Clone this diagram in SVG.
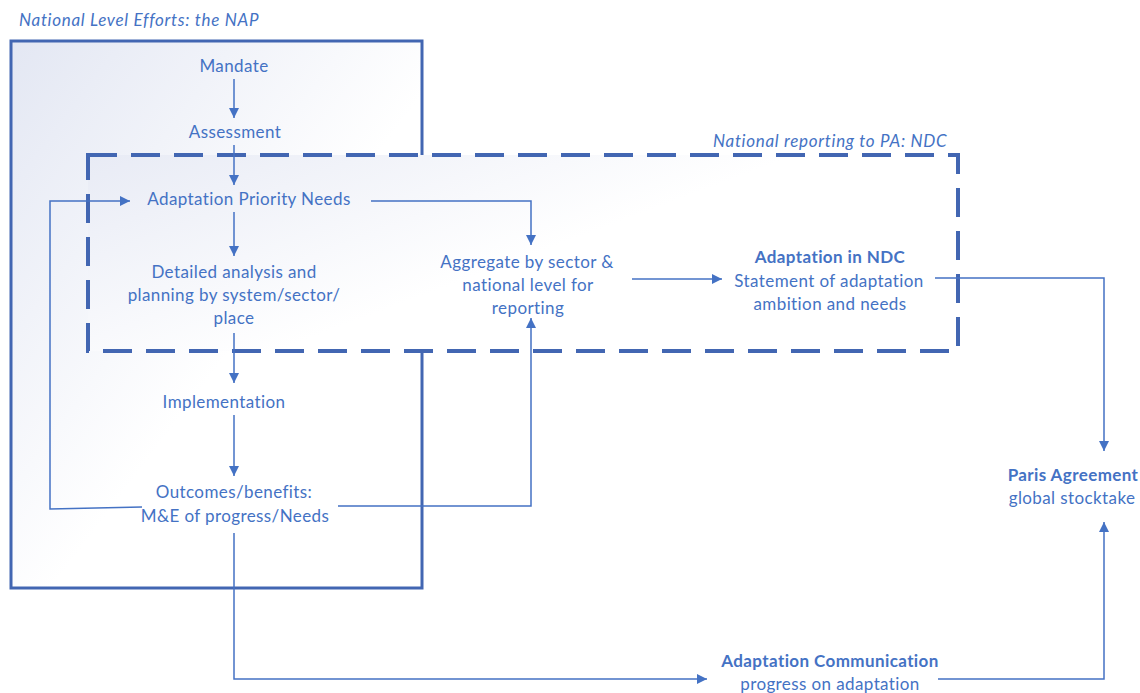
<svg xmlns="http://www.w3.org/2000/svg" width="1140" height="693" viewBox="0 0 1140 693">
<defs>
<linearGradient id="gSolid" x1="0" y1="0" x2="1" y2="1">
<stop offset="0" stop-color="#e3e7f3"/>
<stop offset="0.55" stop-color="#ffffff"/>
</linearGradient>
<linearGradient id="gDash" x1="0" y1="0" x2="1" y2="0.6">
<stop offset="0" stop-color="#e8ebf5"/>
<stop offset="0.6" stop-color="#ffffff"/>
</linearGradient>
<marker id="arr" viewBox="0 0 10 10" refX="10" refY="5" markerWidth="10" markerHeight="10" markerUnits="userSpaceOnUse" orient="auto">
<path d="M0,0 L10,5 L0,10 Z" fill="#4472c4"/>
</marker>
<style>
text{font-family:Lato,"Liberation Sans",sans-serif;font-size:17px;letter-spacing:0.4px;fill:#4472c4;text-anchor:middle}
.b{font-weight:bold}
.it{font-style:italic;text-anchor:start;letter-spacing:0.7px}
.c{fill:none;stroke:#4472c4;stroke-width:1.5}
</style>
</defs>
<g id="nap-box">
<rect x="11" y="41" width="411" height="547" fill="url(#gSolid)" stroke="#4266b2" stroke-width="3"/>
<text class="it" x="19" y="26">National Level Efforts: the NAP</text>
</g>
<g id="ndc-box">
<rect x="88" y="155" width="870" height="196" fill="url(#gDash)" stroke="#4266b2" stroke-width="4" stroke-dasharray="29 14"/>
<text class="it" x="713" y="147">National reporting to PA: NDC</text>
</g>
<g id="connectors">
<path class="c" d="M234,79 V118" marker-end="url(#arr)"/>
<path class="c" d="M234,145 V185" marker-end="url(#arr)"/>
<path class="c" d="M234,212 V256" marker-end="url(#arr)"/>
<path class="c" d="M234,333 V383" marker-end="url(#arr)"/>
<path class="c" d="M234,415 V476" marker-end="url(#arr)"/>
<path class="c" d="M142,507 L50,509 V201 H130" marker-end="url(#arr)"/>
<path class="c" d="M371,201 H531 V245" marker-end="url(#arr)"/>
<path class="c" d="M338,506 H531 V318" marker-end="url(#arr)"/>
<path class="c" d="M632,279 H722" marker-end="url(#arr)"/>
<path class="c" d="M935,278 H1104 V451" marker-end="url(#arr)"/>
<path class="c" d="M234,533 V679 H707" marker-end="url(#arr)"/>
<path class="c" d="M938,679 H1104 V522" marker-end="url(#arr)"/>
</g>
<g id="n-mandate"><text x="234" y="72">Mandate</text></g>
<g id="n-assessment"><text x="235" y="138">Assessment</text></g>
<g id="n-priority"><text x="249" y="205">Adaptation Priority Needs</text></g>
<g id="n-detailed"><text x="234" y="278">Detailed analysis and</text><text x="234" y="301">planning by system/sector/</text><text x="234" y="324">place</text></g>
<g id="n-implementation"><text x="224" y="408">Implementation</text></g>
<g id="n-outcomes"><text x="234" y="498">Outcomes/benefits:</text><text x="235" y="522">M&amp;E of progress/Needs</text></g>
<g id="n-aggregate"><text x="527" y="268">Aggregate by sector &amp;</text><text x="528" y="291">national level for</text><text x="528" y="314">reporting</text></g>
<g id="n-ndc"><text class="b" x="830" y="263">Adaptation in NDC</text><text x="829" y="287">Statement of adaptation</text><text x="830" y="310">ambition and needs</text></g>
<g id="n-paris"><text class="b" x="1073" y="481">Paris Agreement</text><text x="1072" y="504">global stocktake</text></g>
<g id="n-adcomm"><text class="b" x="830" y="667">Adaptation Communication</text><text x="830" y="690">progress on adaptation</text></g>
</svg>
